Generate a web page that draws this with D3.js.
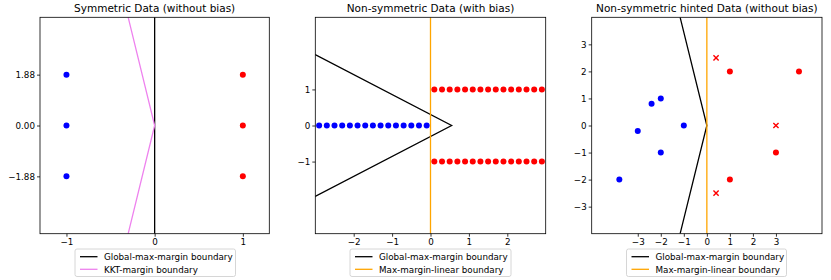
<!DOCTYPE html>
<html><head><meta charset="utf-8">
<script src="https://cdn.jsdelivr.net/npm/d3@7"></script>
<style>body{margin:0;background:#fff}svg{display:block}text{font-family:"DejaVu Sans",sans-serif}</style>
</head><body>
<script>
// ---- Panel 1: Symmetric Data (without bias)
const symYValues = [1.88, 0, -1.88];
const symBlueX = [-1, -1, -1];
const symRedX = [1, 1, 1];
const symXTicks = [-1, 0, 1];
const symYTicks = [1.88, 0, -1.88];
const symGlobalLine = [[0, 4], [0, -4]];
const symKKTLine = [[-0.3, 4], [0, 0], [-0.3, -4]];

// ---- Panel 2: Non-symmetric Data (with bias)
const nsBlueX = [-2.9,-2.7,-2.5,-2.3,-2.1,-1.9,-1.7,-1.5,-1.3,-1.1,-0.9,-0.7,-0.5,-0.3,-0.1];
const nsBlueY = [0,0,0,0,0,0,0,0,0,0,0,0,0,0,0];
const nsRedX = [0.1,0.3,0.5,0.7,0.9,1.1,1.3,1.5,1.7,1.9,2.1,2.3,2.5,2.7,2.9,
                0.1,0.3,0.5,0.7,0.9,1.1,1.3,1.5,1.7,1.9,2.1,2.3,2.5,2.7,2.9];
const nsRedY = [1,1,1,1,1,1,1,1,1,1,1,1,1,1,1,-1,-1,-1,-1,-1,-1,-1,-1,-1,-1,-1,-1,-1,-1,-1];
const nsXTicks = [-2, -1, 0, 1, 2];
const nsYTicks = [-1, 0, 1];
const nsGlobalLine = [[-3.1, 2.02], [0.55, 0], [-3.1, -2.02]];
const nsLinearLine = [[0, 3], [0, -3]];

// ---- Panel 3: Non-symmetric hinted Data (without bias)
const hBlueX = [-3.8, -3, -2.4, -2, -1, -2];
const hBlueY = [-2, -0.2, 0.8, 1, 0, -1];
const hRedX = [1, 4, 3, 1];
const hRedY = [2, 2, -1, -2];
const hHintX = [0.4, 3, 0.4];
const hHintY = [2.5, 0, -2.5];
const hXTicks = [-3, -2, -1, 0, 1, 2, 3];
const hYTicks = [-3, -2, -1, 0, 1, 2, 3];
const hGlobalLine = [[-1.16, 4], [0, 0], [-1.16, -4]];
const hLinearLine = [[0, 4], [0, -4]];

const titles = ["Symmetric Data (without bias)", "Non-symmetric Data (with bias)", "Non-symmetric hinted Data (without bias)"];

const W = 831, H = 280;
const svg = d3.select("body").append("svg").attr("width", W).attr("height", H);
const plotTop = 17.3, plotBottom = 233.7;
const panels = [
  {x0: 40, x1: 269.3, xd: [-1.3, 1.3], yd: [-4, 4], xt: symXTicks, yt: symYTicks, yfmt: d3.format(".2f"),
   lines: [{d: symGlobalLine, c: "#000", label: "Global-max-margin boundary"}, {d: symKKTLine, c: "violet", label: "KKT-margin boundary"}],
   pts: [{x: symBlueX, y: symYValues, c: "blue"}, {x: symRedX, y: symYValues, c: "red"}], hints: null,
   leg: {x: 75, w: 160.5}},
  {x0: 315.3, x1: 545.7, xd: [-3, 3], yd: [-3, 3], xt: nsXTicks, yt: nsYTicks, yfmt: d3.format("d"),
   lines: [{d: nsGlobalLine, c: "#000", label: "Global-max-margin boundary"}, {d: nsLinearLine, c: "#ffa500", label: "Max-margin-linear boundary"}],
   pts: [{x: nsBlueX, y: nsBlueY, c: "blue"}, {x: nsRedX, y: nsRedY, c: "red"}], hints: null,
   leg: {x: 350, w: 161}},
  {x0: 591.7, x1: 822, xd: [-5, 5], yd: [-4, 4], xt: hXTicks, yt: hYTicks, yfmt: d3.format("d"),
   lines: [{d: hGlobalLine, c: "#000", label: "Global-max-margin boundary"}, {d: hLinearLine, c: "#ffa500", label: "Max-margin-linear boundary"}],
   pts: [{x: hBlueX, y: hBlueY, c: "blue"}, {x: hRedX, y: hRedY, c: "red"}], hints: {x: hHintX, y: hHintY, c: "red"},
   leg: {x: 626.5, w: 160}}
];

panels.forEach((p, i) => {
  const x = d3.scaleLinear().domain(p.xd).range([p.x0, p.x1]);
  const y = d3.scaleLinear().domain(p.yd).range([plotBottom, plotTop]);
  const g = svg.append("g");
  const cid = "clip" + i;
  g.append("clipPath").attr("id", cid).append("rect")
    .attr("x", p.x0).attr("y", plotTop).attr("width", p.x1 - p.x0).attr("height", plotBottom - plotTop);
  const plot = g.append("g").attr("clip-path", `url(#${cid})`);
  const line = d3.line().x(d => x(d[0])).y(d => y(d[1]));
  p.lines.forEach(l => {
    plot.append("path").attr("d", line(l.d)).attr("fill", "none").attr("stroke", l.c).attr("stroke-width", 1.3);
  });
  p.pts.forEach(s => {
    plot.selectAll(null).data(d3.range(s.x.length)).join("circle")
      .attr("cx", k => x(s.x[k])).attr("cy", k => y(s.y[k])).attr("r", 3).attr("fill", s.c);
  });
  if (p.hints) {
    const hs = 2.6;
    plot.selectAll(null).data(d3.range(p.hints.x.length)).join("path")
      .attr("d", k => {
        const cx = x(p.hints.x[k]), cy = y(p.hints.y[k]);
        return `M${cx-hs},${cy-hs}L${cx+hs},${cy+hs}M${cx-hs},${cy+hs}L${cx+hs},${cy-hs}`;
      })
      .attr("stroke", p.hints.c).attr("stroke-width", 1.4).attr("fill", "none");
  }
  const xa = g.append("g").attr("transform", `translate(0,${plotBottom})`)
    .call(d3.axisBottom(x).tickValues(p.xt).tickSize(3).tickPadding(2).tickFormat(d3.format("d")));
  const ya = g.append("g").attr("transform", `translate(${p.x0},0)`)
    .call(d3.axisLeft(y).tickValues(p.yt).tickSize(3).tickPadding(2).tickFormat(p.yfmt));
  [xa, ya].forEach(a => {
    a.select(".domain").remove();
    a.selectAll("line").attr("stroke", "#000").attr("stroke-width", 0.8);
    a.selectAll("text").attr("font-size", 8.75).attr("fill", "#000").attr("font-family", "DejaVu Sans");
  });
  g.append("rect").attr("x", p.x0).attr("y", plotTop).attr("width", p.x1 - p.x0).attr("height", plotBottom - plotTop)
    .attr("fill", "none").attr("stroke", "#000").attr("stroke-width", 0.8);
  g.append("text").attr("x", (p.x0 + p.x1) / 2).attr("y", 12).attr("text-anchor", "middle")
    .attr("font-size", 10.5).text(titles[i]);
  const lg = g.append("g");
  lg.append("rect").attr("x", p.leg.x).attr("y", 249).attr("width", p.leg.w).attr("height", 27.5)
    .attr("rx", 2).attr("fill", "#fff").attr("fill-opacity", 0.8).attr("stroke", "#ccc").attr("stroke-width", 0.8);
  p.lines.forEach((l, j) => {
    const yy = 256.7 + j * 12.6;
    lg.append("line").attr("x1", p.leg.x + 5).attr("x2", p.leg.x + 22.5).attr("y1", yy).attr("y2", yy)
      .attr("stroke", l.c).attr("stroke-width", 1.3);
    lg.append("text").attr("x", p.leg.x + 29).attr("y", yy + 3.2).attr("font-size", 8.75).text(l.label);
  });
});
</script>
</body></html>
